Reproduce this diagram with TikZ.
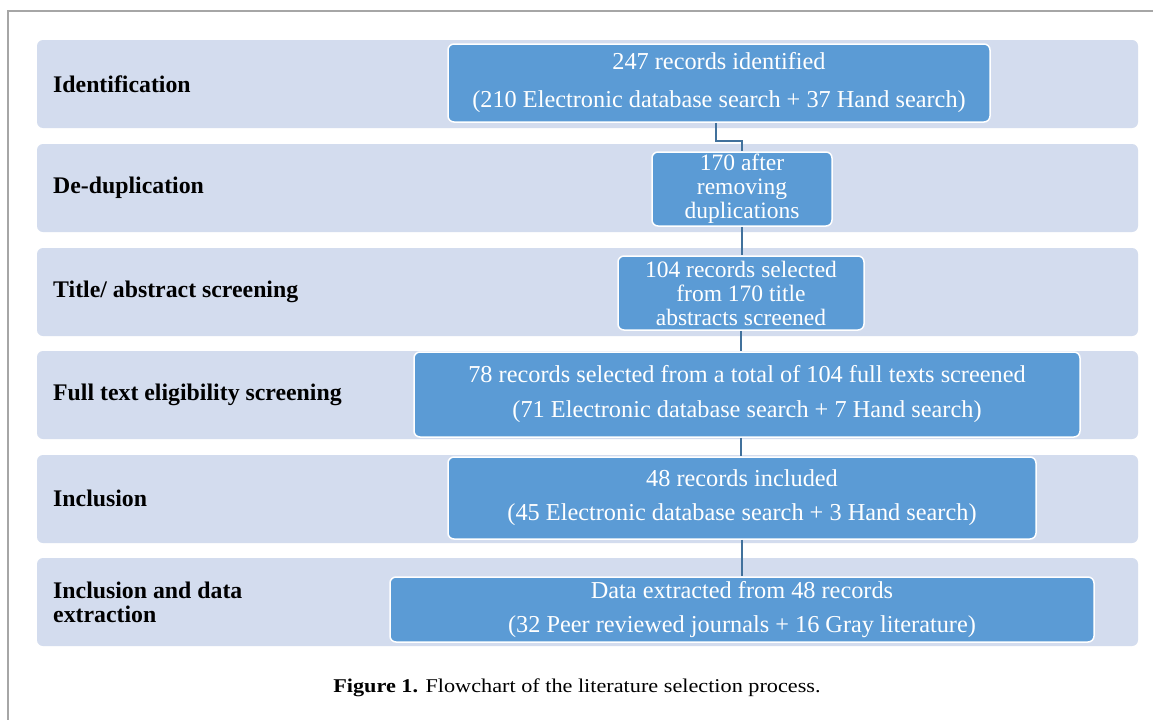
\documentclass[tikz,border=0pt]{standalone}
\usepackage{fontspec}
\setmainfont{Liberation Serif}
\definecolor{band}{HTML}{D3DCEE}
\definecolor{boxfill}{HTML}{5B9BD5}
\definecolor{conncol}{HTML}{41719C}
\definecolor{frame}{HTML}{A6A6A6}
\tikzset{
  bandbox/.style={fill=band, rounded corners=6pt, draw=none},
  stepbox/.style={fill=boxfill, draw=white, line width=1.5pt, rounded corners=6pt, text=white, align=center, inner sep=0pt},
  lbl/.style={anchor=west, font=\bfseries\fontsize{23.8}{24}\selectfont, align=left, inner sep=0pt},
  conn/.style={draw=conncol, line width=2pt},
}
\begin{document}
\begin{tikzpicture}[x=1pt,y=-1pt]
\useasboundingbox (0,0) rectangle (1153,720);
\fill[white] (0,0) rectangle (1153,720);
% frame
\draw[frame, line width=1.2pt] (1153,11) -- (8,11) -- (8,720);
% bands
\foreach \t in {40,144,248,351,455,558}{
  \path[bandbox] (37,\t) rectangle (1138,\t+88);
}
% labels
\node[lbl] (l1) at (53,84) {Identification};
\node[lbl] (l2) at (53,188) {De-duplication};
\node[lbl] (l3) at (53,292) {Title/ abstract screening};
\node[lbl] (l4) at (53,395) {Full text eligibility screening};
\node[lbl] (l5) at (53,498) {Inclusion};
\node[lbl] (l6) at (53,602) {Inclusion and data\\extraction};
% boxes
\node[stepbox, minimum width=542pt, minimum height=78pt, font=\fontsize{24.3}{38}\selectfont] (b1) at (719,83)
  {247 records identified\\(210 Electronic database search + 37 Hand search)};
\node[stepbox, minimum width=180pt, minimum height=74pt, font=\fontsize{23.5}{24}\selectfont] (b2) at (742,189)
  {170 after\\removing\\duplications};
\node[stepbox, minimum width=246pt, minimum height=74pt, font=\fontsize{23.5}{24}\selectfont] (b3) at (741,293)
  {104 records selected\\from 170 title\\abstracts screened};
\node[stepbox, minimum width=666pt, minimum height=85pt, font=\fontsize{24.3}{35}\selectfont] (b4) at (747,394.5)
  {78 records selected from a total of 104 full texts screened\\(71 Electronic database search + 7 Hand search)};
\node[stepbox, minimum width=588pt, minimum height=82pt, font=\fontsize{24.3}{34}\selectfont] (b5) at (742,498)
  {48 records included\\(45 Electronic database search + 3 Hand search)};
\node[stepbox, minimum width=704pt, minimum height=65pt, font=\fontsize{24.3}{34}\selectfont] (b6) at (742,609.5)
  {Data extracted from 48 records\\(32 Peer reviewed journals + 16 Gray literature)};
% connectors
\draw[conn] ([xshift=-3pt]b1.south) -- ++(0,18) -| (b2.north);
\draw[conn] (b2.south) -- (b2.south |- b3.north);
\draw[conn] (b3.south) -- (b3.south |- b4.north);
\draw[conn] (b3.south |- b4.south) -- (b3.south |- b5.north);
\draw[conn] (b5.south) -- (b5.south |- b6.north);
% caption
\node[font=\fontsize{19.5}{22}\selectfont, inner sep=0pt] (cap) at (577,688) {\scalebox{1.14}[1]{\textbf{Figure 1.} Flowchart of the literature selection process.}};
\end{tikzpicture}
\end{document}
